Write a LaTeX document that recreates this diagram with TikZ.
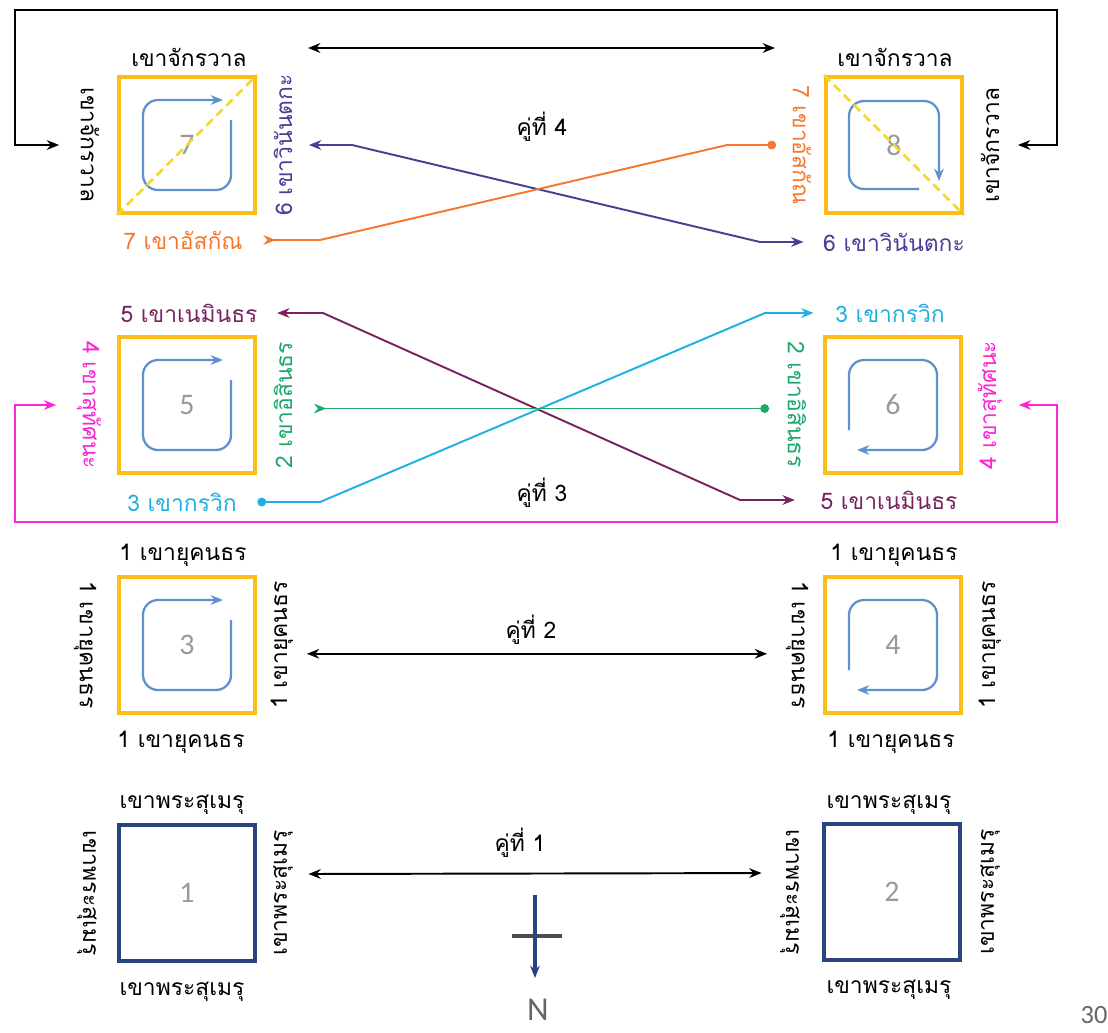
\documentclass[tikz,border=0pt]{standalone}
\usepackage{fontspec}
\setmainfont{Liberation Sans}
\newfontfamily\thai[Script=Thai]{Loma}
\newfontfamily\calib{Carlito}
\usetikzlibrary{arrows.meta}
\definecolor{boxgold}{RGB}{250,190,25}
\definecolor{boxnavy}{RGB}{40,68,128}
\definecolor{spinblue}{RGB}{95,145,205}
\definecolor{diagyellow}{RGB}{240,215,50}
\definecolor{kOrange}{RGB}{244,120,45}
\definecolor{kIndigo}{RGB}{72,62,150}
\definecolor{kPlum}{RGB}{120,35,95}
\definecolor{kMagenta}{RGB}{250,40,210}
\definecolor{kCyan}{RGB}{30,176,224}
\definecolor{kGreen}{RGB}{30,168,105}

\begin{document}
\begin{tikzpicture}[x=0.02cm, y=-0.02cm, line width=1.1pt,
  >={Stealth[length=7pt,width=5.5pt]},
  dot/.tip={Circle[length=5pt]},
  box/.style={draw=boxgold, line width=2.3pt, minimum size=2.72cm, inner sep=0pt,
    text=black!40, font=\calib\fontsize{17}{17}\selectfont},
  lbl/.style={font=\thai\fontsize{13}{15}\selectfont, inner sep=1pt},
  lft/.style={lbl, rotate=-90},
  rgt/.style={lbl, rotate=90},
  spin/.style={draw=spinblue, line width=1.3pt, rounded corners=0.3cm, ->},
  diag/.style={diagyellow, line width=1.5pt, dash pattern=on 5pt off 3pt}]
\useasboundingbox (0,0) rectangle (1108,1032);

% the eight squares
\node[box] (B7) at (187,145) {7};
\node[box] (B8) at (894,145) {8};
\node[box] (B5) at (187,405) {5};
\node[box] (B6) at (893,405) {6};
\node[box] (B3) at (187,645) {3};
\node[box] (B4) at (893,645) {4};
\node[box, draw=boxnavy] (B1) at (187,893) {1};
\node[box, draw=boxnavy] (B2) at (892,892) {2};

\foreach \b/\r in {7/0,5/0,3/0,8/-90,6/180,4/180}
  \draw[spin, shift={(B\b.center)}, rotate=\r] (44,-25) -- (44,45) -- (-44,45) -- (-44,-45) -- (36,-45);
\draw[diag] (B7.south west) -- (B7.north east);
\draw[diag] (B8.north west) -- (B8.south east);

% row 1
\node[lbl] (B7t) at (189,57) {เขาจักรวาล};
\node[lft] (B7l) at (90,145) {เขาจักรวาล};
\node[rgt, text=kIndigo] (B7r) at (283,145) {6 เขาวินันตกะ};
\node[lbl, text=kOrange] (B7b) at (183,240) {7 เขาอัสกัณ};
\node[lbl] (B8t) at (895,57) {เขาจักรวาล};
\node[lft, text=kOrange] (B8l) at (802,145) {7 เขาอัสกัณ};
\node[rgt] (B8r) at (990,145) {เขาจักรวาล};
\node[lbl, text=kIndigo] (B8b) at (894,242) {6 เขาวินันตกะ};

% row 2
\node[lbl, text=kPlum] (B5t) at (189,313) {5 เขาเนมินธร};
\node[lft, text=kMagenta] (B5l) at (89,405) {4 เขาสุทัศนะ};
\node[rgt, text=kGreen] (B5r) at (283,405) {2 เขาอิสินธร};
\node[lbl, text=kCyan] (B5b) at (182,502) {3 เขากรวิก};
\node[lbl, text=kCyan] (B6t) at (890,313) {3 เขากรวิก};
\node[lft, text=kGreen] (B6l) at (797,405) {2 เขาอิสินธร};
\node[rgt, text=kMagenta] (B6r) at (990,405) {4 เขาสุทัศนะ};
\node[lbl, text=kPlum] (B6b) at (889,500) {5 เขาเนมินธร};

% row 3
\node[lbl] (B3t) at (183,555) {1 เขายุคนธร};
\node[lft] (B3l) at (85,645) {1 เขายุคนธร};
\node[rgt] (B3r) at (282,645) {1 เขายุคนธร};
\node[lbl] (B3b) at (181,742) {1 เขายุคนธร};
\node[lbl] (B4t) at (894,555) {1 เขายุคนธร};
\node[lft] (B4l) at (797,645) {1 เขายุคนธร};
\node[rgt] (B4r) at (990,645) {1 เขายุคนธร};
\node[lbl] (B4b) at (891,742) {1 เขายุคนธร};

% row 4
\node[lbl] (B1t) at (182,805) {เขาพระสุเมรุ};
\node[lft] (B1l) at (87,893) {เขาพระสุเมรุ};
\node[rgt] (B1r) at (283,893) {เขาพระสุเมรุ};
\node[lbl] (B1b) at (182,992) {เขาพระสุเมรุ};
\node[lbl] (B2t) at (889,805) {เขาพระสุเมรุ};
\node[lft] (B2l) at (790,892) {เขาพระสุเมรุ};
\node[rgt] (B2r) at (990,892) {เขาพระสุเมรุ};
\node[lbl] (B2b) at (889,990) {เขาพระสุเมรุ};

% pairs
\node[lbl] (K4) at (542,127) {คู่ที่ 4};
\node[lbl] (K3) at (542,493) {คู่ที่ 3};
\node[lbl] (K2) at (531,630) {คู่ที่ 2};
\node[lbl] (K1) at (520,843) {คู่ที่ 1};
\coordinate (P4a) at (308,48);
\coordinate (P4b) at (775,48);
\draw[<->] (P4a) -- (P4b);
\draw[<->, shorten <=0.22cm, shorten >=0.32cm] ([yshift=-5pt]B3r.south) -- ([yshift=-5pt]B4l.south);
\draw[<->, shorten <=0.26cm, shorten >=0.32cm] ([yshift=0.38cm]B1r.south) -- ([yshift=0.38cm]B2l.south);

% cross links
\draw[<->, shorten <=0.38cm, shorten >=0.32cm] (B7l.south) -| (15,10) -- (1057,10) |- (B8r.south);
\draw[kIndigo, <->, shorten <=0.28cm, shorten >=0.34cm] (B7r.south) -- (352,145) -- (760,242) -- (B8b.west);
\draw[kOrange, >-dot, shorten <=0.36cm, shorten >=0.28cm] (B7b.east) -- (320,240) -- (727,145) -- (B8l.south);
\draw[kPlum, <->, shorten <=0.34cm, shorten >=0.46cm] (B5t.east) -- (323,313) -- (740,500) -- (B6b.west);
\draw[kCyan, dot->, shorten <=0.36cm, shorten >=0.38cm] (B5b.east) -- (320,502) -- (765,313) -- (B6t.west);
\draw[kGreen, >-dot, shorten <=0.38cm, shorten >=0.32cm] ([yshift=-2pt]B5r.south) -- ([yshift=-2pt]B6l.south);
\draw[kMagenta, <->, shorten <=0.36cm, shorten >=0.28cm] (B5l.south) -| (15,522) -- (1057,522) |- (B6r.south);

% compass
\draw[black!70, line width=1.8pt] (512,936) -- (562,936);
\draw[boxnavy, line width=1.8pt, ->] (535,895) -- (535,978);
\node[font=\calib\fontsize{19}{19}\selectfont, text=black!60] (N) at (538,1010) {N};
\node[font=\calib\fontsize{15}{15}\selectfont, text=black!60] (pg) at (1094,1015) {30};
\end{tikzpicture}
\end{document}
